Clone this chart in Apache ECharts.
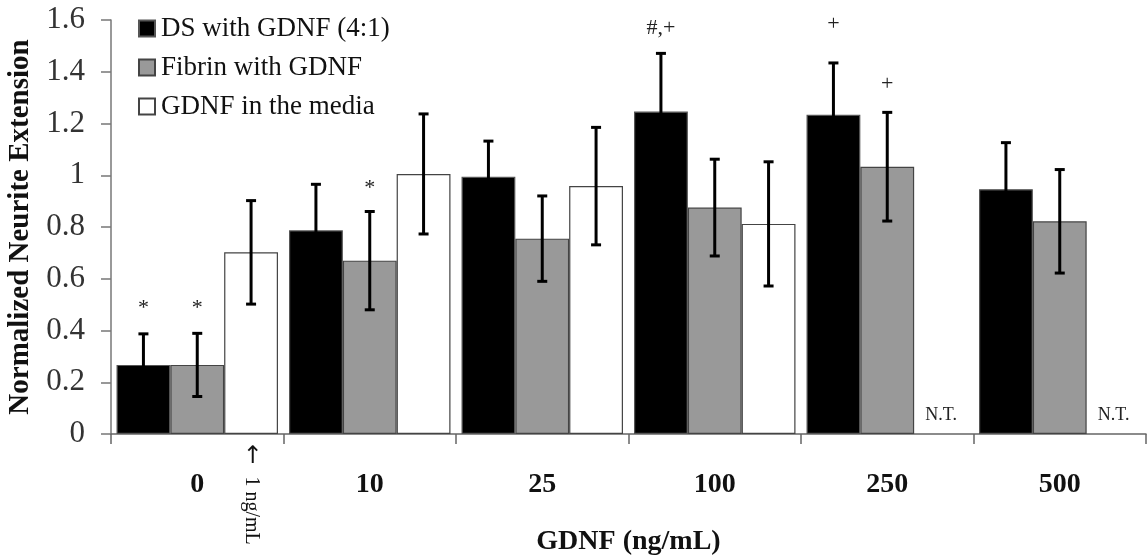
<!DOCTYPE html>
<html>
<head>
<meta charset="utf-8">
<script src="https://cdn.jsdelivr.net/npm/echarts@6/dist/echarts.min.js"></script>
<style>
html,body{margin:0;padding:0;background:#fff;}
#chart{width:1147px;height:556px;}
</style>
</head>
<body>
<div id="chart"></div>
<script>
// ---- data ----
var categories = ['0', '10', '25', '100', '250', '500'];
var seriesNames = ['DS with GDNF (4:1)', 'Fibrin with GDNF', 'GDNF in the media'];
var dsMean = [0.267, 0.787, 0.994, 1.246, 1.234, 0.946];
var dsErr = [0.12, 0.178, 0.138, 0.225, 0.2, 0.18];
var fibrinMean = [0.267, 0.67, 0.755, 0.875, 1.033, 0.822];
var fibrinErr = [0.122, 0.19, 0.165, 0.187, 0.21, 0.2];
var mediaMean = [0.702, 1.005, 0.958, 0.812, null, null];
var mediaErr = [0.2, 0.232, 0.227, 0.24, null, null];
var yTicks = [0, 0.2, 0.4, 0.6, 0.8, 1, 1.2, 1.4, 1.6];
// annotations: [category index, series index, y value, text]
var annotCat = [0, 0, 1, 3, 4, 4, 4, 5];
var annotSeries = [0, 1, 1, 0, 0, 1, 2, 2];
var annotY = [0.488, 0.488, 0.95, 1.57, 1.585, 1.35, 0.072, 0.072];
var annotText = ['*', '*', '*', '#,+', '+', '+', 'N.T.', 'N.T.'];
var noteCat = 0, noteSeries = 2, noteY = -0.234, noteArrow = '\u2190', noteText = '1 ng/mL';

var FONT = "'Liberation Serif','Times New Roman',serif";
var GAP = 0.064;
var colors = ['#000000', '#999999', '#ffffff'];
var borders = ['#555555', '#444444', '#444444'];
var means = [dsMean, fibrinMean, mediaMean];
var errs = [dsErr, fibrinErr, mediaErr];

function barCenter(api, cat, sIdx, y) {
  var p = api.coord([cat, y]);
  var band = api.size([1, 0])[0];
  var bw = band * (1 - GAP) / 3;
  return [p[0] + (sIdx - 1) * bw, p[1]];
}

var errData = [];
for (var s = 0; s < 3; s++) {
  for (var c = 0; c < categories.length; c++) {
    if (means[s][c] != null) errData.push([c, s, means[s][c], errs[s][c]]);
  }
}
var annotData = annotCat.map(function (c, i) { return [c, annotSeries[i], annotY[i]]; });

var series = [];
for (var k = 0; k < 3; k++) {
  series.push({
    name: seriesNames[k],
    type: 'bar',
    data: means[k],
    barGap: '0%',
    barCategoryGap: (GAP * 100) + '%',
    itemStyle: { color: colors[k], borderColor: borders[k], borderWidth: 1.2 },
    emphasis: { disabled: true },
    z: 2
  });
}
series.push({
  type: 'custom',
  data: errData,
  z: 5,
  silent: true,
  renderItem: function (params, api) {
    var cat = api.value(0), s = api.value(1), m = api.value(2), e = api.value(3);
    var top = barCenter(api, cat, s, m + e);
    var bot = barCenter(api, cat, s, m - e);
    var x = top[0], hw = 5;
    var st = { stroke: '#000', lineWidth: 3 };
    return {
      type: 'group',
      children: [
        { type: 'line', shape: { x1: x, y1: top[1], x2: x, y2: bot[1] }, style: st },
        { type: 'line', shape: { x1: x - hw, y1: top[1], x2: x + hw, y2: top[1] }, style: st },
        { type: 'line', shape: { x1: x - hw, y1: bot[1], x2: x + hw, y2: bot[1] }, style: st }
      ]
    };
  }
});
series.push({
  type: 'custom',
  data: annotData,
  z: 6,
  silent: true,
  renderItem: function (params, api) {
    var p = barCenter(api, api.value(0), api.value(1), api.value(2));
    var t = annotText[params.dataIndex];
    var isNT = t === 'N.T.';
    return {
      type: 'text',
      x: p[0], y: p[1],
      style: {
        text: t,
        fill: '#222',
        font: (isNT ? '18px ' : '22px ') + FONT,
        align: 'center',
        verticalAlign: 'middle'
      }
    };
  }
});
series.push({
  type: 'custom',
  data: [[noteCat, noteSeries, noteY]],
  z: 6,
  silent: true,
  clip: false,
  renderItem: function (params, api) {
    var p = barCenter(api, api.value(0), api.value(1), api.value(2));
    return {
      type: 'text',
      x: p[0], y: p[1],
      rotation: -Math.PI / 2,
      style: {
        text: '{a|' + noteArrow + '}{b|' + noteText + '}',
        align: 'center',
        verticalAlign: 'middle',
        rich: {
          a: { fontFamily: "'DejaVu Sans',sans-serif", fontSize: 24, fill: '#111', lineHeight: 22 },
          b: { fontFamily: FONT, fontSize: 20, fill: '#111', lineHeight: 22, padding: [0, 0, 0, 12] }
        }
      }
    };
  }
});

var chart = echarts.init(document.getElementById('chart'), null, { renderer: 'canvas' });
chart.setOption({
  animation: false,
  backgroundColor: '#ffffff',
  grid: { left: 111, right: 1, top: 20, bottom: 122, containLabel: false, outerBoundsMode: 'none' },
  legend: {
    data: seriesNames,
    orient: 'vertical',
    left: 138,
    top: 15,
    padding: 0,
    icon: 'rect',
    itemWidth: 16,
    itemHeight: 16,
    itemGap: 12,
    textStyle: { fontFamily: FONT, fontSize: 27, color: '#111', lineHeight: 27, padding: [0, 0, 0, 1] },
    selectedMode: false
  },
  xAxis: {
    type: 'category',
    data: categories,
    name: 'GDNF (ng/mL)',
    nameLocation: 'middle',
    nameGap: 94,
    nameTextStyle: { fontFamily: FONT, fontSize: 28, fontWeight: 'bold', color: '#111' },
    axisLine: { lineStyle: { color: '#666', width: 1.5 } },
    axisTick: { show: true, length: 10, inside: false, lineStyle: { color: '#666', width: 1.5 } },
    axisLabel: { fontFamily: FONT, fontSize: 28, fontWeight: 'bold', color: '#111', margin: 37 },
    splitLine: { show: false }
  },
  yAxis: {
    type: 'value',
    min: yTicks[0],
    max: yTicks[yTicks.length - 1],
    interval: 0.2,
    name: 'Normalized Neurite Extension',
    nameLocation: 'middle',
    nameRotate: 90,
    nameGap: 70,
    nameTextStyle: { fontFamily: FONT, fontSize: 29, fontWeight: 'bold', color: '#111' },
    axisLine: { show: true, lineStyle: { color: '#777', width: 1.5 } },
    axisTick: { show: true, length: 10, inside: false, lineStyle: { color: '#777', width: 1.5 } },
    axisLabel: { fontFamily: FONT, fontSize: 31, color: '#333', margin: 26 },
    splitLine: { show: false }
  },
  series: series
});
</script>
</body>
</html>
